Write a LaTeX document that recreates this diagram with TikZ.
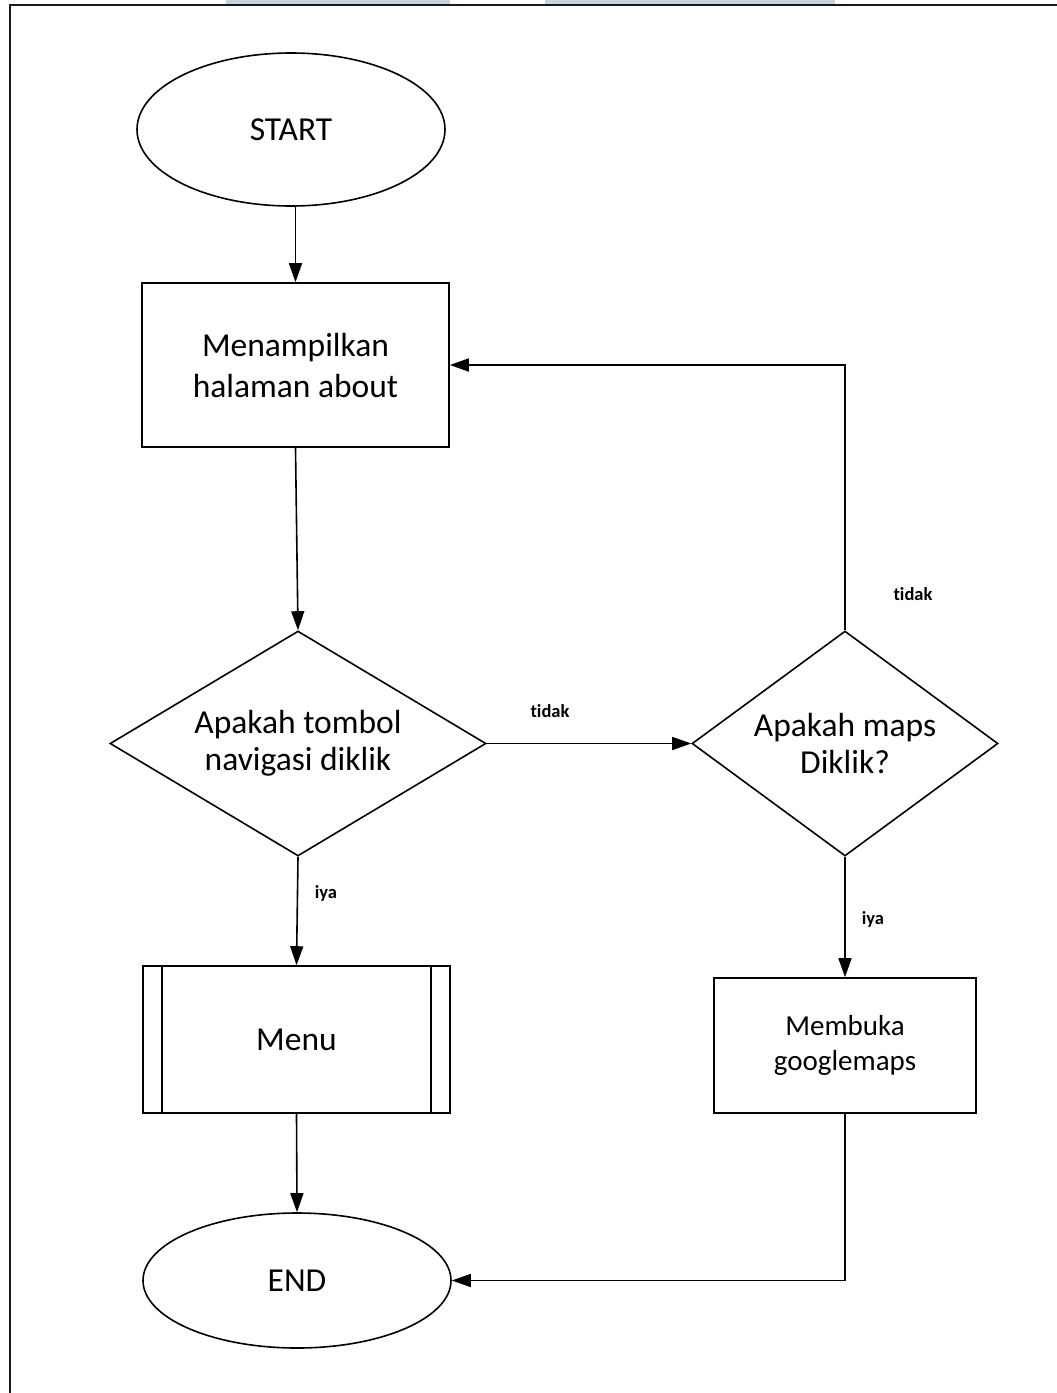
\documentclass[tikz,border=0pt]{standalone}
\usepackage{fontspec}
\setmainfont{Carlito}[Ligatures={NoCommon}]
\usetikzlibrary{shapes.geometric,arrows.meta}
\definecolor{wmark}{RGB}{200,211,222}
\tikzset{
  shp/.style={draw=black, line width=1.6pt, inner sep=0pt, align=center},
  terminal/.style={shp, ellipse, minimum width=308pt},
  procbox/.style={shp, rectangle},
  decision/.style={shp, diamond, aspect=1.67, minimum width=376pt, minimum height=225pt},
  bigtext/.style={font=\fontsize{33.5}{37}\selectfont},
  arr/.style={draw=black, line width=1.6pt, -{Triangle[length=19pt,width=13pt]}},
  lbl/.style={font=\fontsize{18.5}{22}\selectfont\bfseries, inner sep=0pt}
}
\begin{document}
\begin{tikzpicture}[x=1pt,y=-1pt]
\useasboundingbox (0,0) rectangle (1057,1393);
% watermark fragments and frame
\fill[wmark] (226,0) rectangle (450,4);
\fill[wmark] (545,0) rectangle (835,4);
\draw[line width=2pt, black!90] (9.5,1393) -- (9.5,5) -- (1057,5);

% nodes
\node[terminal, minimum height=153pt, bigtext] (start) at (291,129.5) {START};
\node[procbox, minimum width=307pt, minimum height=164pt, font=\fontsize{33.5}{41}\selectfont] (about) at (295.5,365) {Menampilkan\\halaman about};
\node[decision, bigtext] (dec1) at (298,743.5) {Apakah tombol\\navigasi diklik};
\node[decision, minimum width=306pt, aspect=1.36, bigtext] (dec2) at (845,743.5) {Apakah maps\\Diklik?};
\node[procbox, minimum width=307pt, minimum height=147pt, bigtext] (menu) at (296.5,1039.5) {Menu};
\draw[line width=1.6pt] ([xshift=20pt]menu.north west) -- ([xshift=20pt]menu.south west);
\draw[line width=1.6pt] ([xshift=-20pt]menu.north east) -- ([xshift=-20pt]menu.south east);
\node[procbox, minimum width=262pt, minimum height=135pt, font=\fontsize{29}{35}\selectfont] (maps) at (845,1045.5) {Membuka\\googlemaps};
\node[terminal, minimum height=135pt, bigtext] (end) at (297,1280.5) {END};

% connectors
\draw[arr] (start.south -| about.north) -- (about.north);
\draw[arr] (about.south) -- (dec1.north);
\draw[arr] (dec1.east) -- (dec2.west);
\draw[arr] (dec2.north) |- (about.east);
\draw[arr] (dec1.south) -- (menu.north);
\draw[arr] (dec2.south) -- (maps.north);
\draw[arr] (menu.south) -- (end.north);
\draw[arr] (maps.south) |- (end.east);

% labels
\node[lbl] (l1) at (550,711) {tidak};
\node[lbl] (l2) at (913,594) {tidak};
\node[lbl] (l3) at (326,893) {iya};
\node[lbl] (l4) at (873,919) {iya};
\end{tikzpicture}
\end{document}
